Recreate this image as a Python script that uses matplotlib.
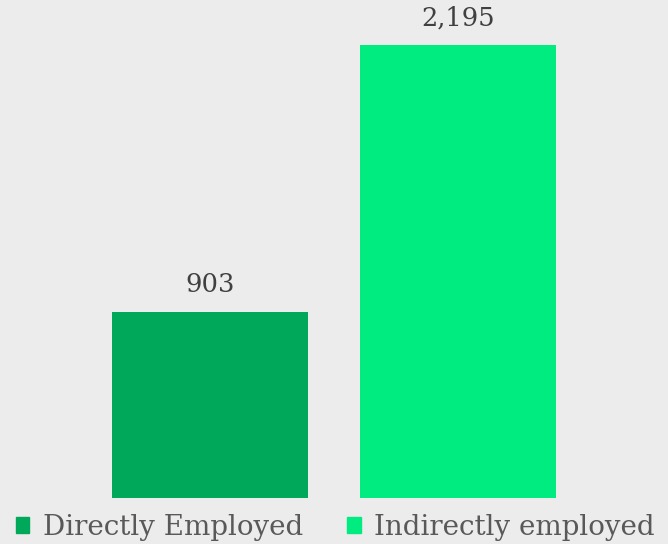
import matplotlib.pyplot as plt
from matplotlib.patches import Patch

categories = ['Directly Employed', 'Indirectly employed']
values = [903, 2195]
colors = ['#00a85a', '#00eb80']
bg = '#ececec'

plt.rcParams['font.family'] = ['DejaVu Serif']

fig = plt.figure(figsize=(6.68, 5.44), dpi=100, facecolor=bg)
# axes spans full width, baseline at 498px from top
ax = fig.add_axes([0, 46 / 544, 1, 498 / 544])
ax.set_facecolor(bg)

x = list(range(len(values)))
bars = ax.bar(x, values, width=196 / 248, color=colors)
ax.set_xlim(-210 / 248, (668 - 210) / 248)
ax.set_ylim(0, 2413)

for b, v in zip(bars, values):
    ax.text(b.get_x() + b.get_width() / 2, v + 72, f'{v:,}',
            ha='center', va='bottom', fontsize=18.5, color='#404040')

for s in ax.spines.values():
    s.set_visible(False)
ax.set_xticks([])
ax.set_yticks([])

handles = [Patch(color=c, label=l) for c, l in zip(colors, categories)]
fig.legend(handles=handles, loc='lower center', bbox_to_anchor=(0.502, -0.015),
           ncol=2, frameon=False, fontsize=20, labelcolor='#595959',
           handlelength=0.5, handleheight=0.5, handletextpad=0.5,
           columnspacing=1.55, borderaxespad=0)

fig.savefig('out.png', facecolor=bg)
